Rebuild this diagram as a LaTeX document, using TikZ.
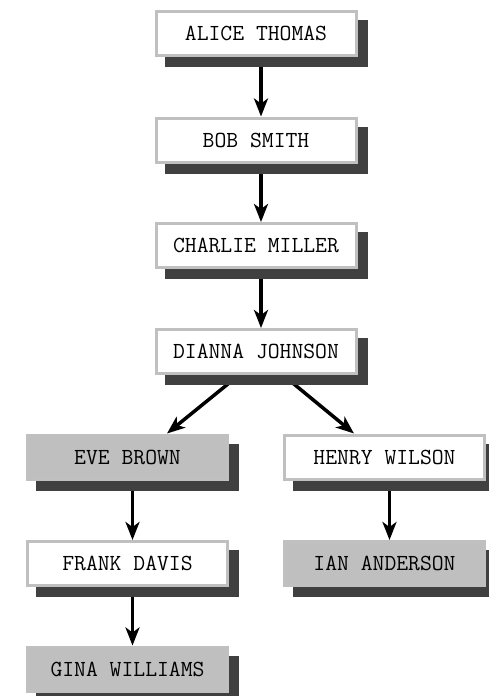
\documentclass[tikz,border=0pt]{standalone}
\usetikzlibrary{shadows,arrows.meta,backgrounds}
\definecolor{boxline}{HTML}{C0C0C0}
\definecolor{boxfill}{HTML}{BFBFBF}
\definecolor{shadowc}{HTML}{404040}
\tikzset{
  person/.style={rectangle, draw=boxline, line width=1.5pt, fill=white,
    minimum width=100pt, minimum height=22pt, inner sep=2pt,
    font=\ttfamily\fontsize{11.5}{13}\selectfont, text=black,
    drop shadow={shadow xshift=5pt, shadow yshift=-5pt, opacity=1,
      fill=shadowc, draw=shadowc, line width=1.5pt}},
  grayperson/.style={person, fill=boxfill},
  link/.style={line width=1.75pt, -{Stealth[length=9pt,width=7pt,inset=2.5pt]}}
}
\begin{document}
\begin{tikzpicture}[x=0.5pt,y=-0.5pt]
\useasboundingbox (0,0) rectangle (488,696);
\node[person] (alice) at (256,33.5) {ALICE THOMAS};
\node[person] (bob) at (256,140) {BOB SMITH};
\node[person] (charlie) at (256,245.5) {CHARLIE MILLER};
\node[person] (dianna) at (256,351.5) {DIANNA JOHNSON};
\node[grayperson] (eve) at (127.5,457) {EVE BROWN};
\node[person] (henry) at (384.5,457) {HENRY WILSON};
\node[person] (frank) at (127.5,563.5) {FRANK DAVIS};
\node[grayperson] (ian) at (384.5,563.5) {IAN ANDERSON};
\node[grayperson] (gina) at (127.5,669) {GINA WILLIAMS};
\begin{pgfonlayer}{background}
\draw[link] ([xshift=2.5pt]alice.south) -- ([xshift=2.5pt]bob.north);
\draw[link] ([xshift=2.5pt]bob.south) -- ([xshift=2.5pt]charlie.north);
\draw[link] ([xshift=2.5pt]charlie.south) -- ([xshift=2.5pt]dianna.north);
\draw[link] ([xshift=-8.5pt]dianna.south) -- ([xshift=19.75pt]eve.north);
\draw[link] ([xshift=13.5pt]dianna.south) -- ([xshift=-15.25pt]henry.north);
\draw[link] ([xshift=2.5pt]eve.south) -- ([xshift=2.5pt]frank.north);
\draw[link] ([xshift=2.5pt]frank.south) -- ([xshift=2.5pt]gina.north);
\draw[link] ([xshift=2.5pt]henry.south) -- ([xshift=2.5pt]ian.north);
\end{pgfonlayer}
\end{tikzpicture}
\end{document}
